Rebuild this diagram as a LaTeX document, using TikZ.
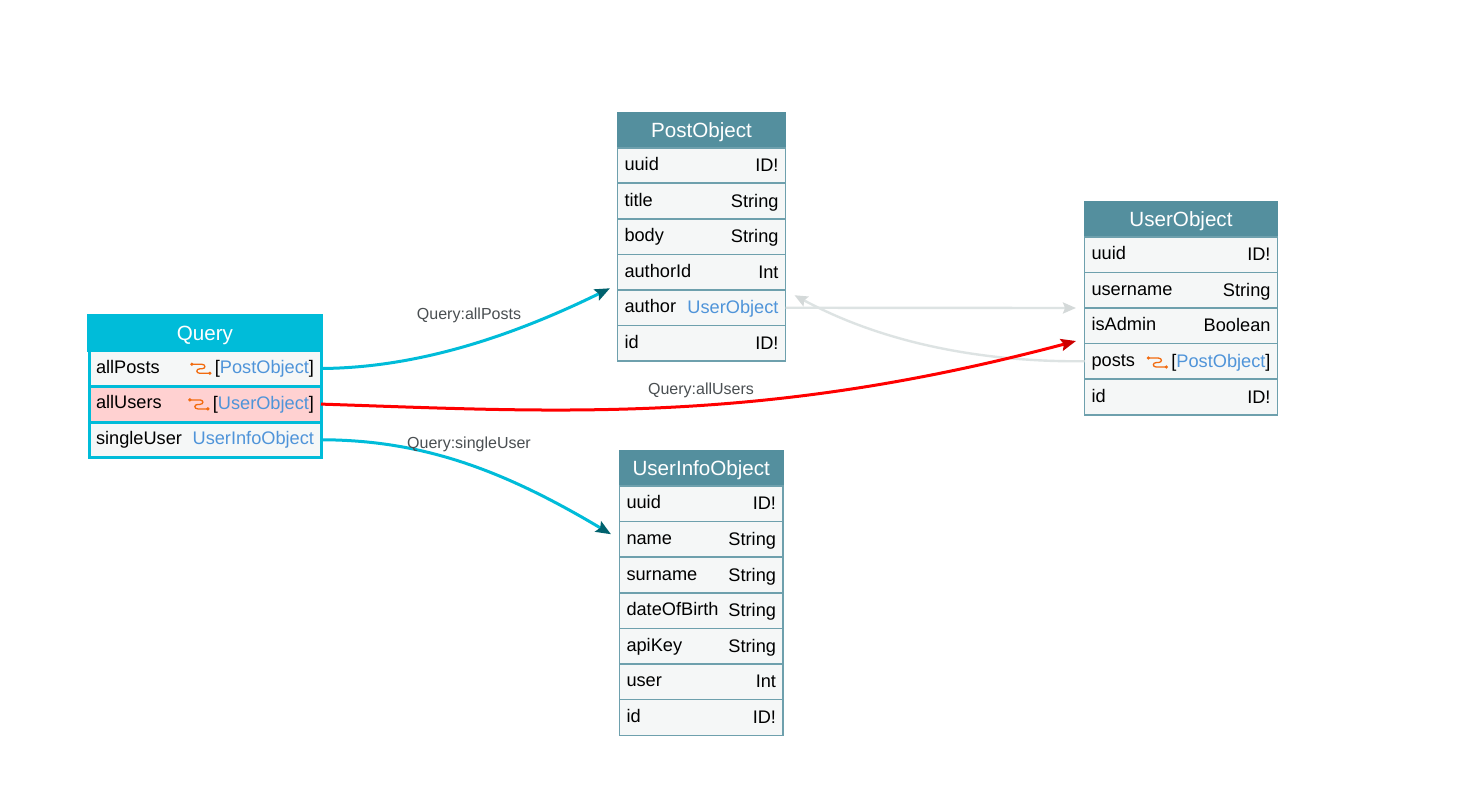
\documentclass[tikz,border=0pt]{standalone}
\usepackage{fontspec}
\setmainfont{Liberation Sans}
\usetikzlibrary{arrows.meta}
\definecolor{headteal}{HTML}{548F9E}
\definecolor{rowfill}{HTML}{F5F7F7}
\definecolor{qcyan}{HTML}{00BCD9}
\definecolor{linkblue}{HTML}{4F94D9}
\definecolor{tipteal}{HTML}{00626E}
\definecolor{palegray}{HTML}{DDE3E3}
\definecolor{hlpink}{HTML}{FFD1D1}
\definecolor{iconorange}{HTML}{F26B0F}
\definecolor{edgelabel}{HTML}{4A4F52}
\definecolor{hotred}{HTML}{FF0000}
\definecolor{hottip}{HTML}{CC0000}
\tikzset{
  x=1pt,y=-1pt,
  box/.style={rectangle,inner sep=0pt,outer sep=0pt,draw=headteal!85!white,line width=1.2pt,fill=rowfill},
  qbox/.style={box,draw=qcyan,line width=3pt},
  headbox/.style={rectangle,inner sep=0pt,outer sep=0pt,fill=headteal,draw=headteal,line width=1pt,text=white,text height=14.8pt,text depth=0pt,font=\fontsize{20.6}{24}\selectfont},
  fieldtext/.style={inner sep=0pt,outer sep=0pt,font=\fontsize{18.2}{22}\selectfont},
  edgetext/.style={inner sep=0pt,text=edgelabel,font=\fontsize{16}{20}\selectfont},
  link/.style={line width=3pt,qcyan,-{Stealth[length=15pt,width=12pt,inset=2.5pt,color=tipteal]}},
  hotlink/.style={line width=3pt,hotred,-{Stealth[length=15pt,width=12pt,inset=2.5pt,color=hottip]}},
  palelink/.style={line width=2.4pt,palegray,-{Stealth[length=13pt,width=11pt,inset=2pt,color=palegray!90!gray]}},
  iconline/.style={iconorange,line width=1.3pt},
}
\newcommand{\Blue}[1]{\textcolor{linkblue}{#1}}
\newcommand{\LeftDrop}{-5.5pt}
\newcommand{\RightDrop}{-6.2pt}
% \Rect{name}{style}{x1}{x2}{y1}{y2}{content}
\newcommand{\Rect}[7]{%
  \pgfmathsetmacro{\rw}{#4-#3}\pgfmathsetmacro{\rh}{#6-#5}%
  \pgfmathsetmacro{\rx}{(#3+#4)/2}\pgfmathsetmacro{\ry}{(#5+#6)/2}%
  \node[#2,minimum width=\rw pt,minimum height=\rh pt] (#1) at (\rx,\ry) {#7};}
% \Row{name}{style}{x1}{x2}{y1}{y2}{left}{right}
\newcommand{\Row}[8]{%
  \Rect{#1}{#2}{#3}{#4}{#5}{#6}{}%
  \node[fieldtext,anchor=base west] (#1L) at ([xshift=7pt,yshift=\LeftDrop]#1.west) {#7};
  \node[fieldtext,anchor=base east] (#1R) at ([xshift=-7pt,yshift=\RightDrop]#1.east) {#8};}
% orange relay icon just left of a text node
\newcommand{\Relay}[1]{%
  \fill[iconorange] ([xshift=-23pt,yshift=4.5pt]#1.west) circle (1.8pt);
  \fill[iconorange] ([xshift=-5pt,yshift=-4.5pt]#1.west) circle (1.8pt);
  \draw[iconline] ([xshift=-23pt,yshift=4.5pt]#1.west) -- ([xshift=-13pt,yshift=4.5pt]#1.west)
     .. controls ([xshift=-9pt,yshift=4.5pt]#1.west) and ([xshift=-9pt,yshift=0pt]#1.west) .. ([xshift=-13pt,yshift=0pt]#1.west)
     -- ([xshift=-15pt,yshift=0pt]#1.west)
     .. controls ([xshift=-19pt,yshift=0pt]#1.west) and ([xshift=-19pt,yshift=-4.5pt]#1.west) .. ([xshift=-15pt,yshift=-4.5pt]#1.west)
     -- ([xshift=-5pt,yshift=-4.5pt]#1.west);}
\begin{document}
\begin{tikzpicture}
\useasboundingbox (0,0) rectangle (1459,806);
\fill[white] (0,0) rectangle (1459,806);

% Query
\Rect{qhead}{headbox,fill=qcyan,draw=qcyan}{87.5}{322.5}{314.5}{351}{Query}
\renewcommand{\LeftDrop}{-4.7pt}\renewcommand{\RightDrop}{-5pt}
\Row{qposts}{qbox}{89}{321}{350.8}{386.2}{allPosts}{[\Blue{PostObject}]}
\Row{qusers}{qbox,fill=hlpink}{89}{321}{386.2}{422}{allUsers}{[\Blue{UserObject}]}
\Row{qsingle}{qbox}{89}{321}{422}{457.5}{singleUser}{\Blue{UserInfoObject}}
\Relay{qpostsR}
\Relay{qusersR}
\renewcommand{\LeftDrop}{-5.2pt}\renewcommand{\RightDrop}{-6pt}

% PostObject
\Rect{phead}{headbox}{617.5}{785.5}{112.5}{148}{PostObject}
\Row{puuid}{box}{617.5}{785.5}{148}{183}{uuid}{ID!}
\Row{ptitle}{box}{617.5}{785.5}{183}{219}{title}{String}
\Row{pbody}{box}{617.5}{785.5}{219}{254.5}{body}{String}
\Row{pauthorid}{box}{617.5}{785.5}{254.5}{290}{authorId}{Int}
\Row{pauthor}{box}{617.5}{785.5}{290}{325.5}{author}{\Blue{UserObject}}
\Row{pid}{box}{617.5}{785.5}{325.5}{361}{id}{ID!}

% UserObject
\Rect{uhead}{headbox}{1084.5}{1277.5}{201.5}{237}{UserObject}
\Row{uuuid}{box}{1084.5}{1277.5}{237}{272.5}{uuid}{ID!}
\Row{uname}{box}{1084.5}{1277.5}{272.5}{308}{username}{String}
\Row{uadmin}{box}{1084.5}{1277.5}{308}{343.5}{isAdmin}{Boolean}
\Row{uposts}{box}{1084.5}{1277.5}{343.5}{379}{posts}{[\Blue{PostObject}]}
\Row{uid}{box}{1084.5}{1277.5}{379}{415}{id}{ID!}
\Relay{upostsR}

% UserInfoObject
\Rect{ihead}{headbox}{619.5}{783}{450.5}{486}{UserInfoObject}
\Row{iuuid}{box}{619.5}{783}{486}{521.5}{uuid}{ID!}
\Row{iname}{box}{619.5}{783}{521.5}{557}{name}{String}
\Row{isur}{box}{619.5}{783}{557}{593}{surname}{String}
\Row{idob}{box}{619.5}{783}{593}{628.5}{dateOfBirth}{String}
\Row{iapi}{box}{619.5}{783}{628.5}{664}{apiKey}{String}
\Row{iuser}{box}{619.5}{783}{664}{699.5}{user}{Int}
\Row{iid}{box}{619.5}{783}{699.5}{735.5}{id}{ID!}

% connectors
\draw[palelink] (uposts.west) .. controls (1010,362) and (900,352) .. ([xshift=9pt,yshift=12.5pt]pauthor.east);
\draw[palelink] (pauthor.east) -- ([xshift=-8.5pt]uname.south west);
\draw[link] (qposts.east) .. controls (390,368) and (480,352) .. ([xshift=-7.5pt,yshift=19.5pt]pauthor.west);
\draw[hotlink] (qusers.east) .. controls (560,412) and (760,425) .. ([xshift=-8.5pt,yshift=2.5pt]uadmin.south west);
\draw[link] (qsingle.east) .. controls (420,440) and (500,468) .. ([xshift=-8.5pt,yshift=5pt]iname.west);

% connector labels
\node[edgetext] (lposts) at (469,315.5) {Query:allPosts};
\node[edgetext] (lusers) at (701,390) {Query:allUsers};
\node[edgetext] (lsingle) at (469,444) {Query:singleUser};
\end{tikzpicture}
\end{document}
